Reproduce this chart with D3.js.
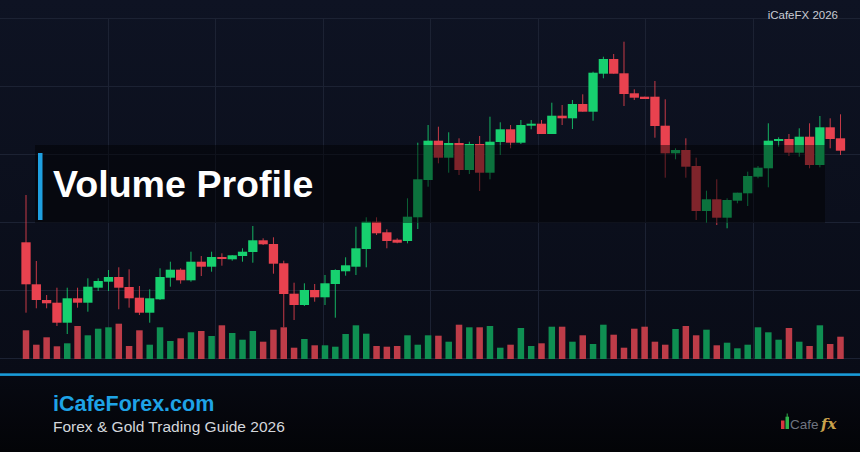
<!DOCTYPE html>
<html><head><meta charset="utf-8">
<script src="https://cdn.jsdelivr.net/npm/d3@7/dist/d3.min.js"></script>
<style>html,body{margin:0;padding:0;background:#0a0d18;}svg{display:block;}</style>
</head><body>
<div id="chart"></div>
<script>
// ---- DATA (price in USD, volume in lots) ----
const opens  = [2157.7,2115.7,2100,2097.3,2077.3,2101.7,2097.3,2112.3,2118.3,2123,2113,2102.3,2087.3,2100.7,2122.3,2130.3,2119.7,2138.3,2133.3,2143,
                2140.7,2144,2148,2159.7,2156,2136.7,2106.3,2095,2110,2102.7,2116,2128.7,2133.3,2151,2178.3,2167.7,2160.3,2159,2182.7,2220,
                2259.3,2242.3,2257,2230,2256,2227.3,2258,2270.7,2257.3,2274.3,2276.3,2266,2284.3,2281.7,2296,2288.3,2326.3,2341,2326.7,2306.7,
                2303.3,2303.3,2274.3,2246.7,2250,2234,2189,2200.7,2182.3,2199.3,2206.7,2223.3,2231.7,2259,2261,2247.3,2263.3,2235,2272.7,2261.7];
const highs  = [2205,2139,2105,2112.3,2112.3,2112.3,2121.7,2121.7,2130,2132.7,2130.7,2114,2110.7,2131.7,2138.3,2131.7,2148.3,2144,2148.3,2146.7,
                2145,2151.7,2174,2161.7,2162.7,2139.3,2117.3,2116.7,2116,2125,2130.7,2142.7,2173.3,2182.7,2182.7,2170.7,2161.7,2201.7,2257.3,2275,
                2273.3,2267.7,2261.7,2258.3,2264,2283.3,2277.7,2275,2280,2280,2280,2297.3,2295,2300,2305.7,2328.3,2343.3,2346,2358.3,2310.7,
                2303.3,2319,2300.7,2251.7,2261.7,2242.3,2209.3,2220.7,2201.7,2207.3,2228.3,2234,2276.7,2262.7,2266,2271.7,2276.7,2284,2281.7,2285.7];
const lows   = [2087.3,2091.7,2091.7,2074,2066,2092.3,2088.3,2109,2109,2090.7,2092.3,2085,2077.3,2100,2113.3,2116.3,2118.3,2124,2128.3,2134.3,
                2139.3,2138.3,2137.3,2155,2126.3,2072.7,2080,2094,2098.3,2095,2082.3,2124.3,2125,2132.7,2165,2151.7,2156.7,2156.7,2171,2213.3,
                2236.7,2227.3,2225,2226,2209,2220.7,2245,2251.7,2256,2270.7,2266,2266,2275,2271,2288.3,2279.3,2321.7,2326.3,2294,2300,
                2301,2262.3,2222.3,2240.7,2222.3,2180,2177.3,2175,2171.7,2196.7,2194,2221.7,2212.7,2253.3,2244,2243.3,2231.7,2232.7,2251.7,2245];
const closes = [2115.7,2100,2096.7,2077.3,2101.7,2097.3,2113.3,2119,2123,2112.3,2101.7,2087.3,2101.7,2123,2130.3,2119.7,2138.3,2133.3,2143,2141,
                2144.7,2148.3,2159.7,2155.7,2136.3,2106,2095,2110,2102.7,2116.7,2130,2134.7,2151.7,2178.3,2166.7,2159,2157.3,2183.3,2220.7,2259.3,
                2242.3,2257,2230,2256,2227.3,2258.3,2270.7,2257.3,2275,2276.3,2266,2284.3,2281.7,2296,2288.3,2327.3,2341,2326.3,2306,2302.3,
                2301,2274,2246.7,2250,2233.3,2189,2200.7,2182.3,2200,2207.3,2224,2232.3,2259.3,2261,2247.3,2263.3,2235,2272.7,2261,2249.3];
const volumes = [2870,1430,2170,1270,1570,3300,2370,3030,3170,3530,1300,2870,1430,3170,1800,2070,2670,2800,2300,3370,
                 2600,1930,2800,1730,2930,3170,1130,2000,1370,1370,1230,2500,3370,2530,1300,1230,1300,2370,1430,2370,
                 2330,1730,3430,3170,3170,3300,1130,1430,3100,1300,1570,3230,3230,1730,2370,1500,3430,2430,1130,3030,
                 3230,1730,1430,3000,3300,2370,2930,1370,1630,1070,1430,3170,2670,1930,3100,1730,1300,3370,1500,2230];
const titleText = "Volume Profile";
const brandText = "iCafeForex.com";
const subText = "Forex & Gold Trading Guide 2026";
const cornerText = "iCafeFX 2026";

const candles = opens.map((o,i)=>({i, o, h:highs[i], l:lows[i], c:closes[i], v:volumes[i]}));

// ---- LAYOUT ----
const W = 860, H = 452;
const FONT = "'Liberation Sans', Arial, Helvetica, sans-serif";
const svg = d3.select("#chart").append("svg").attr("width", W).attr("height", H);
const defs = svg.append("defs");
const bg = defs.append("linearGradient").attr("id","bg").attr("x1",0).attr("y1",0).attr("x2",0).attr("y2",1);
bg.append("stop").attr("offset","0%").attr("stop-color","#0e1323");
bg.append("stop").attr("offset","100%").attr("stop-color","#090c17");
const fg = defs.append("linearGradient").attr("id","foot").attr("x1",0).attr("y1",0).attr("x2",0).attr("y2",1);
fg.append("stop").attr("offset","0%").attr("stop-color","#070912");
fg.append("stop").attr("offset","100%").attr("stop-color","#030407");

svg.append("rect").attr("width",W).attr("height",376).attr("fill","url(#bg)");
svg.append("rect").attr("y",376).attr("width",W).attr("height",H-376).attr("fill","url(#foot)");

// scales
const x = d3.scaleBand().domain(d3.range(candles.length)).range([20.85, 845.65]).paddingInner(0.1).paddingOuter(0.05);
const y = d3.scaleLinear().domain([2040, 2400]).range([360, 0]);
const yv = d3.scaleLinear().domain([0, 3600]).range([359, 323]);
const gridY = d3.scaleLinear().domain([0,5]).range([18, 358]);
const gridX = d3.scaleLinear().domain([0,8]).range([0, 860]);

// grid
const grid = svg.append("g").attr("stroke","#1c2233").attr("stroke-width",1);
grid.selectAll("line.h").data(d3.range(6)).join("line")
  .attr("x1",0).attr("x2",W).attr("y1",d=>Math.round(gridY(d))+0.5).attr("y2",d=>Math.round(gridY(d))+0.5);
grid.selectAll("line.v").data(d3.range(1,8)).join("line")
  .attr("y1",18).attr("y2",358).attr("x1",d=>Math.round(gridX(d))+0.5).attr("x2",d=>Math.round(gridX(d))+0.5);

const UP = "#17d06f", DN = "#e8424f";
const VUP = "#0f8f52", VDN = "#bd3c48";

// volume
svg.append("g").selectAll("rect").data(candles).join("rect")
  .attr("x", d => x(d.i) + x.bandwidth()*0.15)
  .attr("width", x.bandwidth()*0.7)
  .attr("y", d => yv(d.v))
  .attr("height", d => yv(0) - yv(d.v))
  .attr("fill", d => d.c >= d.o ? VUP : VDN);

// candles
const cg = svg.append("g");
cg.selectAll("line").data(candles).join("line")
  .attr("x1", d => x(d.i) + x.bandwidth()/2).attr("x2", d => x(d.i) + x.bandwidth()/2)
  .attr("y1", d => y(d.h)).attr("y2", d => y(d.l))
  .attr("stroke", d => d.c >= d.o ? UP : DN).attr("stroke-width", 1).attr("opacity",0.85);
cg.selectAll("rect").data(candles).join("rect")
  .attr("x", d => x(d.i)).attr("width", x.bandwidth())
  .attr("y", d => y(Math.max(d.o,d.c)))
  .attr("height", d => Math.max(1.5, Math.abs(y(d.o)-y(d.c))))
  .attr("fill", d => d.c >= d.o ? UP : DN);

// title band overlay
svg.append("rect").attr("x",35).attr("y",145).attr("width",790).attr("height",78)
  .attr("fill","#000").attr("opacity",0.45);
svg.append("rect").attr("x",38).attr("y",153).attr("width",4.5).attr("height",67).attr("fill","#1e9fe0");
svg.append("text").attr("x",53).attr("y",197).text(titleText)
  .attr("font-family",FONT).attr("font-weight","bold").attr("font-size",37.6).attr("fill","#ffffff");

// corner label
svg.append("text").attr("x",838).attr("y",19).attr("text-anchor","end").text(cornerText)
  .attr("font-family",FONT).attr("font-size",11.5).attr("fill","#c9ccd3");

// footer
svg.append("rect").attr("x",0).attr("y",373.3).attr("width",W).attr("height",2.6).attr("fill","#1a9bd8");
svg.append("text").attr("x",53).attr("y",411).text(brandText)
  .attr("font-family",FONT).attr("font-weight","bold").attr("font-size",21.5).attr("fill","#1ea3e6");
svg.append("text").attr("x",53).attr("y",432).text(subText)
  .attr("font-family",FONT).attr("font-size",15.5).attr("fill","#d4d7dc");

// logo
const logo = svg.append("g");
logo.append("rect").attr("x",781).attr("y",420.5).attr("width",3.5).attr("height",8.5).attr("fill","#d8353f");
logo.append("line").attr("x1",787.2).attr("x2",787.2).attr("y1",413.5).attr("y2",417).attr("stroke","#2fb24a").attr("stroke-width",1);
logo.append("rect").attr("x",785.5).attr("y",416.7).attr("width",3.5).attr("height",12.3).attr("fill","#2fb24a");
logo.append("text").attr("x",790).attr("y",429).text("Cafe")
  .attr("font-family",FONT).attr("font-size",13.5).attr("font-weight",300).attr("fill","#6f7480");
logo.append("text").attr("x",821).attr("y",429).text("fx")
  .attr("font-family","'DejaVu Serif', 'Liberation Serif', serif").attr("font-style","italic").attr("font-weight","bold")
  .attr("font-size",15).attr("fill","#c9a24c");
</script>
</body></html>
